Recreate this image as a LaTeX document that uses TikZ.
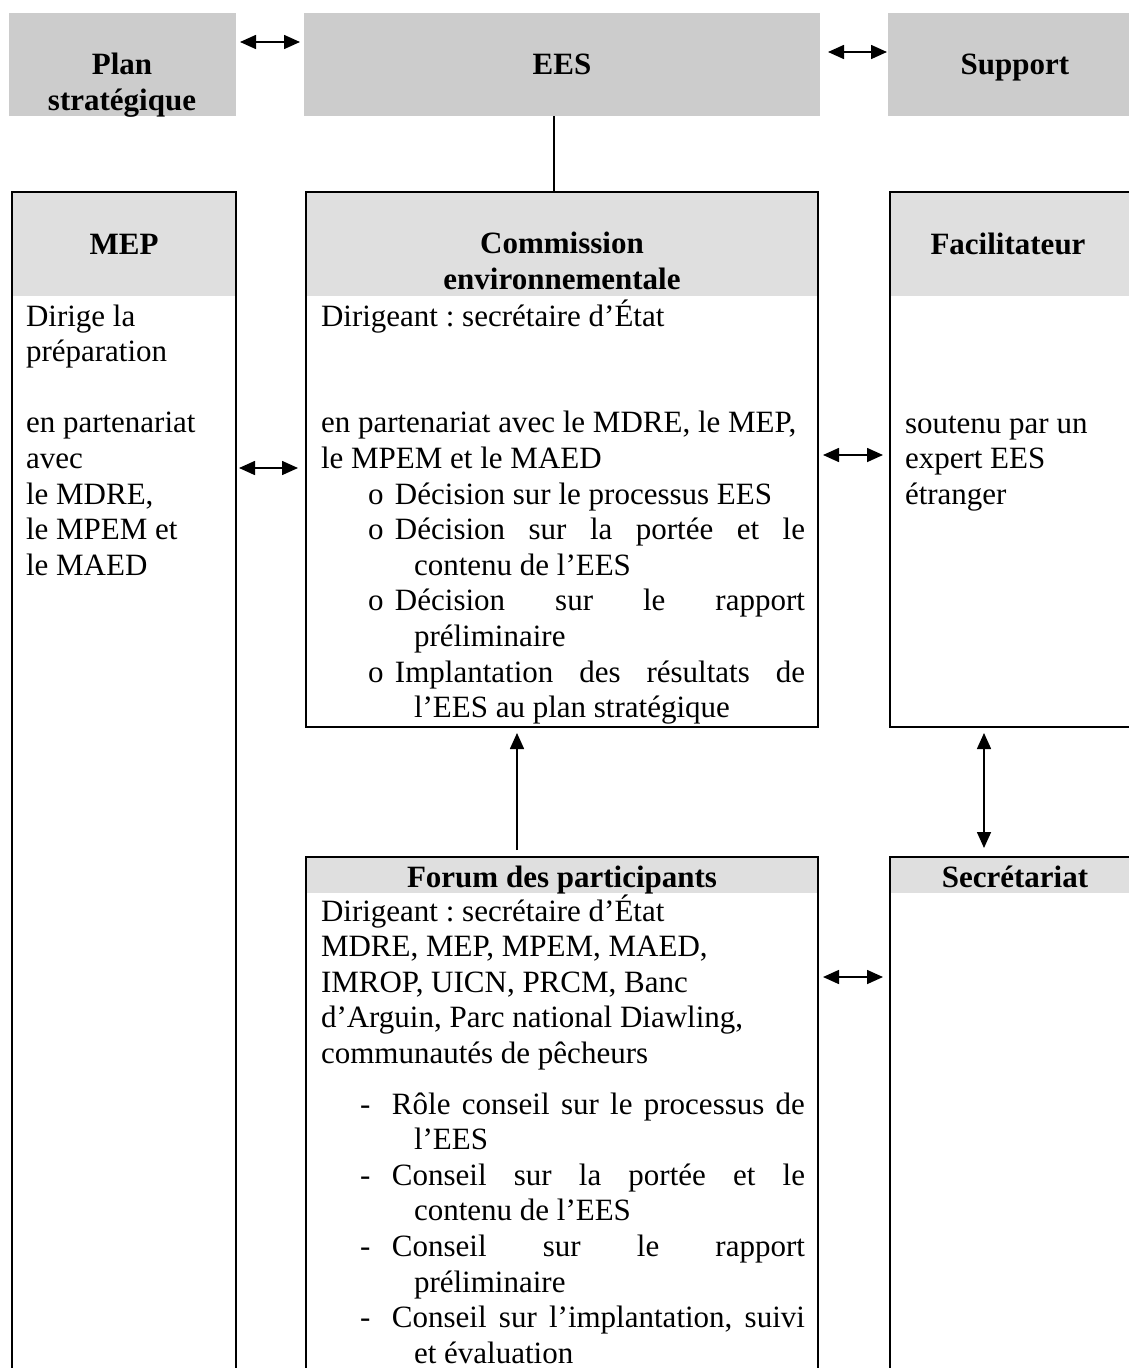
\documentclass[tikz,border=0pt]{standalone}
\usepackage{fontspec}
\setmainfont{Liberation Serif}
\usetikzlibrary{arrows.meta,positioning}
\definecolor{grisfonce}{HTML}{CCCCCC}
\definecolor{grisclair}{HTML}{DFDFDF}
\frenchspacing
\newcommand{\puce}[1]{\par\hangindent=93pt\hangafter=1\noindent\hspace*{47pt}\makebox[27pt][l]{o}#1\par}
\newcommand{\tiret}[1]{\par\hangindent=93pt\hangafter=1\noindent\hspace*{39pt}\makebox[32pt][l]{-}#1\par}

\begin{document}
\begin{tikzpicture}[x=1pt, y=-1pt,
  every node/.style={font=\fontsize{31}{35.6}\selectfont, inner sep=0pt, outer sep=0pt},
  haut/.style={fill=grisfonce, anchor=north west, minimum height=103pt},
  boite/.style={draw, line width=1.8pt, anchor=north west},
  entete/.style={fill=grisclair, anchor=north west},
  titre/.style={font=\fontsize{31}{35.6}\selectfont\bfseries, anchor=base, align=center},
  corps/.style={anchor=base west},
  lien/.style={line width=1.6pt},
  fleche/.style={lien, {Triangle[length=16pt,width=14pt]}-{Triangle[length=16pt,width=14pt]}},
  monte/.style={lien, -{Triangle[length=16pt,width=14pt]}}]
  \useasboundingbox (0,0) rectangle (1129,1368);
  \clip (0,0) rectangle (1129,1368);

  \node[haut, minimum width=227pt] (plan) at (9,13) {};
  \node[haut, minimum width=516pt] (ees) at (304,13) {};
  \node[haut, minimum width=260pt] (support) at (888,13) {};
  \node[titre] (tplan) at (122,110) {Plan\\stratégique};
  \node[titre] (tees) at (562,74) {EES};
  \node[titre] (tsupport) at (1015,74) {Support};

  \node[entete, minimum width=224pt, minimum height=104pt] (hmep) at (12,192) {};
  \node[entete, minimum width=512pt, minimum height=104pt] (hcomm) at (306,192) {};
  \node[entete, minimum width=250pt, minimum height=104pt] (hfac) at (890,192) {};
  \node[entete, minimum width=512pt, minimum height=36pt] (hforum) at (306,857) {};
  \node[entete, minimum width=252pt, minimum height=36pt] (hsec) at (890,857) {};

  \node[boite, minimum width=224pt, minimum height=1250pt] (mep) at (12,192) {};
  \node[boite, minimum width=512pt, minimum height=535pt] (comm) at (306,192) {};
  \node[boite, minimum width=250pt, minimum height=535pt] (fac) at (890,192) {};
  \node[boite, minimum width=512pt, minimum height=600pt] (forum) at (306,857) {};
  \node[boite, minimum width=252pt, minimum height=600pt] (sec) at (890,857) {};

  \node[titre] (tmep) at (124,254) {MEP};
  \node[titre] (tcomm) at (562,289) {Commission\\environnementale};
  \node[titre] (tfac) at (1008,254) {Facilitateur};
  \node[titre] (tforum) at (562,887) {Forum des participants};
  \node[titre] (tsec) at (1015,887) {Secrétariat};

  \node[corps] (bmep) at (26,326) {\begin{minipage}[t]{205pt}
    Dirige la\\préparation\par\mbox{}\par
    en partenariat\\avec\\le MDRE,\\le MPEM et\\le MAED
  \end{minipage}};
  \node[corps] (bcomm) at (321,326) {\begin{minipage}[t]{484pt}
    Dirigeant : secrétaire d'État\par\mbox{}\par\mbox{}\par
    en partenariat avec le MDRE, le MEP,\\le MPEM et le MAED
    \puce{Décision sur le processus EES}
    \puce{Décision sur la portée et le\linebreak contenu de l'EES}
    \puce{Décision sur le rapport\linebreak préliminaire}
    \puce{Implantation des résultats de\linebreak l'EES au plan stratégique}
  \end{minipage}};
  \node[corps] (bfac) at (905,433) {\begin{minipage}[t]{215pt}
    soutenu par un\\expert EES\\étranger
  \end{minipage}};
  \node[corps] (bforum) at (321,921) {\begin{minipage}[t]{484pt}
    Dirigeant : secrétaire d'État\\
    MDRE, MEP, MPEM, MAED,\\
    IMROP, UICN, PRCM, Banc\\
    d'Arguin, Parc national Diawling,\\
    communautés de pêcheurs\par\vspace{15pt}
    \tiret{Rôle conseil sur le processus de\linebreak l'EES}
    \tiret{Conseil sur la portée et le\linebreak contenu de l'EES}
    \tiret{Conseil sur le rapport\linebreak préliminaire}
    \tiret{Conseil sur l'implantation, suivi\linebreak et évaluation}
  \end{minipage}};

  \coordinate (y1) at (0,42);
  \coordinate (y2) at (0,52);
  \coordinate (y3) at (0,468);
  \coordinate (y4) at (0,455);
  \coordinate (y5) at (0,977);
  \coordinate (x1) at (517,0);
  \coordinate (x2) at (984,0);
  \coordinate (x3) at (554,0);
  \draw[fleche, shorten <=4pt, shorten >=4pt] (plan.east |- y1) -- (ees.west |- y1);
  \draw[fleche, shorten <=8pt, shorten >=1pt] (ees.east |- y2) -- (support.west |- y2);
  \draw[fleche, shorten <=3pt, shorten >=8pt] (mep.east |- y3) -- (comm.west |- y3);
  \draw[fleche, shorten <=5pt, shorten >=7pt] (comm.east |- y4) -- (fac.west |- y4);
  \draw[fleche, shorten <=5pt, shorten >=7pt] (forum.east |- y5) -- (sec.west |- y5);
  \draw[lien] (ees.south -| x3) -- (comm.north -| x3);
  \draw[monte, shorten <=7pt, shorten >=6pt] (forum.north -| x1) -- (comm.south -| x1);
  \draw[fleche, shorten <=6pt, shorten >=9pt] (fac.south -| x2) -- (sec.north -| x2);
\end{tikzpicture}
\end{document}
